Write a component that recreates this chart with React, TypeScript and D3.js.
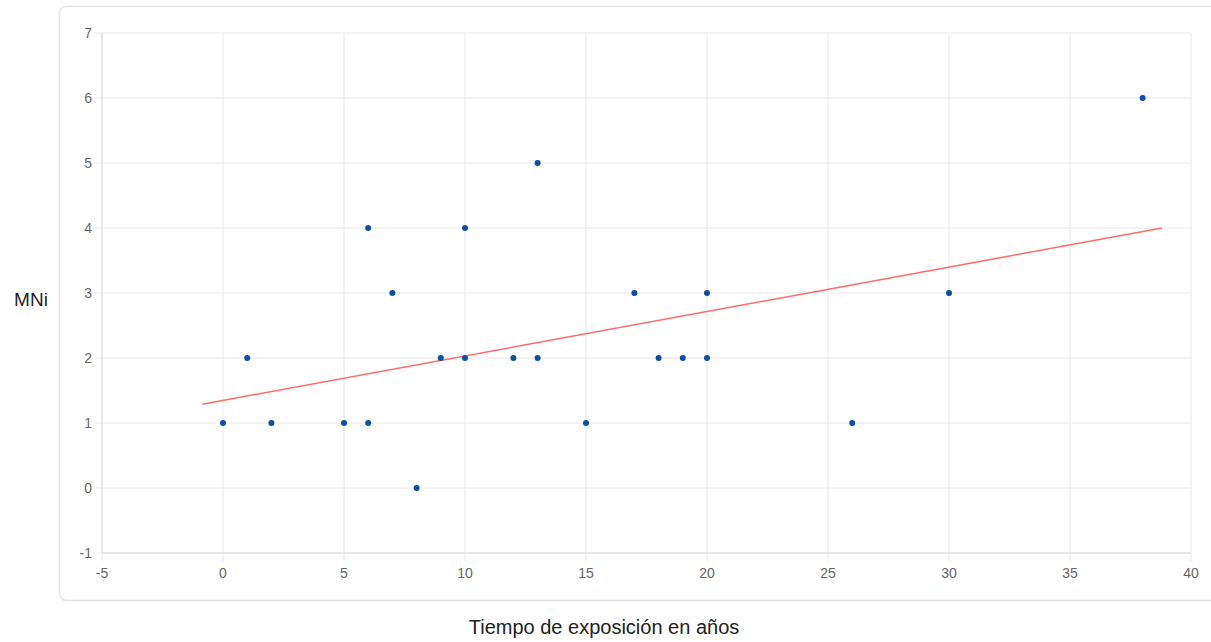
import React from "react";
import * as d3 from "d3";

const xValues = [0, 1, 2, 5, 6, 6, 7, 8, 9, 10, 10, 12, 13, 13, 15, 17, 18, 19, 20, 20, 26, 30, 38];
const yValues = [1, 2, 1, 1, 1, 4, 3, 0, 2, 2, 4, 2, 2, 5, 1, 3, 2, 2, 2, 3, 1, 3, 6];
const trendX = [-0.85, 38.8];
const trendY = [1.29, 4.0];
const xTicks = [-5, 0, 5, 10, 15, 20, 25, 30, 35, 40];
const yTicks = [-1, 0, 1, 2, 3, 4, 5, 6, 7];
const xTitle = "Tiempo de exposición en años";
const yTitle = "MNi";

export default function App() {
  const W = 1211, H = 642;
  const x = d3.scaleLinear().domain([-5, 40]).range([102, 1191]);
  const y = d3.scaleLinear().domain([-1, 7]).range([553, 33]);
  const grid = "#e8e8e8";
  const tickColor = "#666";
  const font = "Arial, 'Liberation Sans', sans-serif";
  const line = d3.line<number>().x((d, i) => x(trendX[i])).y((d, i) => y(trendY[i]));
  return (
    <div style={{ position: "absolute", left: 0, top: 0 }}>
      <svg width={W} height={H} style={{ display: "block" }}>
        <rect x={59.5} y={6.5} width={1180} height={594} rx={7} fill="#fff" stroke="#e4e4e4" strokeWidth={1.5} />
        {xTicks.map((t) => (
          <g key={"x" + t}>
            <line x1={x(t)} x2={x(t)} y1={y(7)} y2={y(-1) + 8} stroke={grid} strokeWidth={1} />
            <text x={x(t)} y={y(-1) + 25} textAnchor="middle" fontSize={14} fill={tickColor} fontFamily={font}>{t}</text>
          </g>
        ))}
        {yTicks.map((t) => (
          <g key={"y" + t}>
            <line x1={x(-5) - 8} x2={x(40)} y1={y(t)} y2={y(t)} stroke={grid} strokeWidth={1} />
            <text x={x(-5) - 10} y={y(t) + 5} textAnchor="end" fontSize={14} fill={tickColor} fontFamily={font}>{t}</text>
          </g>
        ))}
        <line x1={x(-5)} x2={x(-5)} y1={y(7)} y2={y(-1)} stroke="#dcdcdc" strokeWidth={1} />
        <line x1={x(-5)} x2={x(40)} y1={y(-1)} y2={y(-1)} stroke="#dcdcdc" strokeWidth={1} />
        <path d={line(trendX) || ""} fill="none" stroke="#ff6b6b" strokeWidth={1.5} />
        {xValues.map((v, i) => (
          <circle key={"p" + i} cx={x(v)} cy={y(yValues[i])} r={3} fill="#0d4ea6" />
        ))}
        <text x={31} y={306} textAnchor="middle" fontSize={19} fill="#222" fontFamily={font}>{yTitle}</text>
        <text x={604} y={634} textAnchor="middle" fontSize={20} fill="#222" fontFamily={font}>{xTitle}</text>
      </svg>
    </div>
  );
}
